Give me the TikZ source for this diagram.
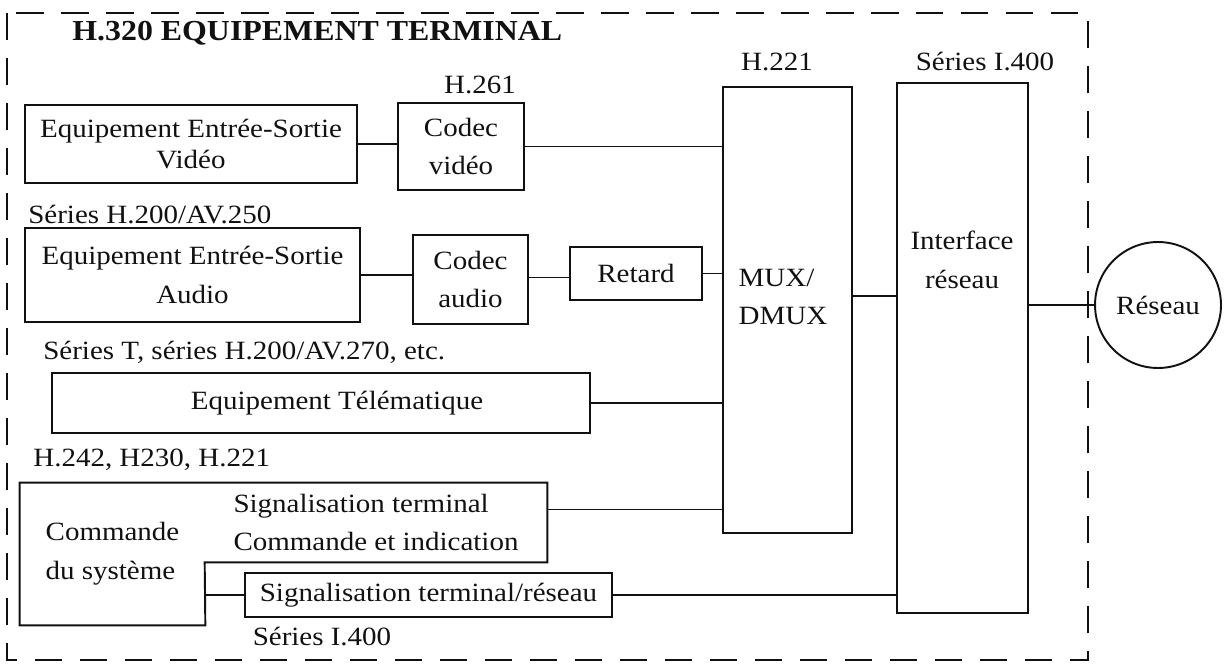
\documentclass[tikz,border=0pt]{standalone}
\usepackage{fontspec}
\setmainfont{Liberation Serif}[FakeStretch=1.1]
\usepackage{tikz}
\definecolor{ink}{HTML}{111111}

\begin{document}
\begin{tikzpicture}[
  x=0.02cm, y=-0.02cm,
  every node/.style={font=\fontsize{15}{22}\selectfont, text=ink, align=center},
  box/.style={draw=ink, line width=1.1pt, inner sep=0pt},
  conn/.style={draw=ink, line width=0.9pt},
  frame/.style={draw=ink, line width=1.1pt, dash pattern=on 0.55cm off 0.35cm},
  tag/.style={inner sep=0pt},
]
\useasboundingbox (0,0) rectangle (1229,663);

% ─── CADRE ───
\draw[frame] (7,13) rectangle (1088,660);
\node[tag, anchor=west, font=\bfseries\fontsize{16.5}{20}\selectfont] (titre) at (72,33) {H.320 EQUIPEMENT TERMINAL};
%
% ─── VIDEO ───
\node[tag] (vidNorme) at (480,85) {H.261};
\node[box, minimum width=6.64cm, minimum height=1.56cm] (vidEq) at (191,144) {Equipement Entrée-Sortie\\[-4pt]Vidéo};
\node[box, minimum width=2.52cm, minimum height=1.74cm] (vidCodec) at (461,146.5) {Codec\\vidéo};
%
% ─── AUDIO ───
\node[tag, anchor=west] (audNorme) at (28,215) {Séries H.200/AV.250};
\node[box, minimum width=6.7cm, minimum height=1.88cm] (audEq) at (192.5,275) {Equipement Entrée-Sortie\\Audio};
\node[box, minimum width=2.3cm, minimum height=1.78cm] (audCodec) at (470.5,279.5) {Codec\\audio};
\node[box, minimum width=2.64cm, minimum height=1.06cm] (retard) at (636,273.5) {Retard};
%
% ─── MUX / INTERFACE ───
\node[tag] (muxNorme) at (777,62) {H.221};
\node[box, minimum width=2.58cm, minimum height=8.92cm] (mux) at (787.5,310) {};
\node[tag, align=left] (muxTxt) at (783,297) {MUX/\\DMUX};
\node[tag] (ifNorme) at (985,62) {Séries I.400};
\node[box, minimum width=2.62cm, minimum height=10.6cm] (iface) at (962.5,348) {};
\node[tag] (ifTxt) at (962,260) {Interface\\réseau};
\node[box, circle, minimum size=2.52cm] (reseau) at (1158,305) {Réseau};
%
% ─── TELEMATIQUE ───
\node[tag, anchor=west] (telNorme) at (43,352) {Séries T, séries H.200/AV.270, etc.};
\node[box, minimum width=10.76cm, minimum height=1.2cm] (tele) at (321,403) {\hspace*{0.64cm}Equipement Télématique};
%
% ─── COMMANDE ───
\node[tag, anchor=west] (cmdNorme) at (33,460) {H.242, H230, H.221};
\node[tag, minimum width=3.7cm, minimum height=2.84cm, align=left] (cmd) at (112.5,554) {Commande\\du système};
\node[tag, minimum width=6.84cm, minimum height=1.58cm, align=left] (sigTerm) at (376,522.5) {Signalisation terminal\\Commande et indication};
\draw[box] (cmd.north west) -- (sigTerm.north east) -- (sigTerm.south east)
  -- (sigTerm.south west) -- (cmd.south east) -- (cmd.south west) -- cycle;
\node[box, minimum width=7.34cm, minimum height=0.88cm] (sigNet) at (428.5,595) {Signalisation terminal/réseau};
\node[tag] (sigNorme) at (322,637) {Séries I.400};
%
% ─── LIAISONS ───
\draw[conn] (vidEq.east) -- (vidEq.east -| vidCodec.west);
\draw[conn] (vidCodec.east) -- (vidCodec.east -| mux.west);
\draw[conn] (audEq.east) -- (audEq.east -| audCodec.west);
\draw[conn] ([yshift=0.04cm]audCodec.east) -- ([yshift=0.04cm]audCodec.east -| retard.west);
\draw[conn] (retard.east) -- (retard.east -| mux.west);
\draw[conn] (tele.east) -- (tele.east -| mux.west);
\draw[conn] ([yshift=0.26cm]sigTerm.east) -- ([yshift=0.26cm]sigTerm.east -| mux.west);
\draw[conn] (sigNet.west -| cmd.east) -- (sigNet.west);
\draw[conn] (sigNet.east) -- (sigNet.east -| iface.west);
\draw[conn] ([yshift=0.28cm]mux.east) -- ([yshift=0.28cm]mux.east -| iface.west);
\draw[conn] (reseau.west -| iface.east) -- (reseau.west);

\end{tikzpicture}
\end{document}
